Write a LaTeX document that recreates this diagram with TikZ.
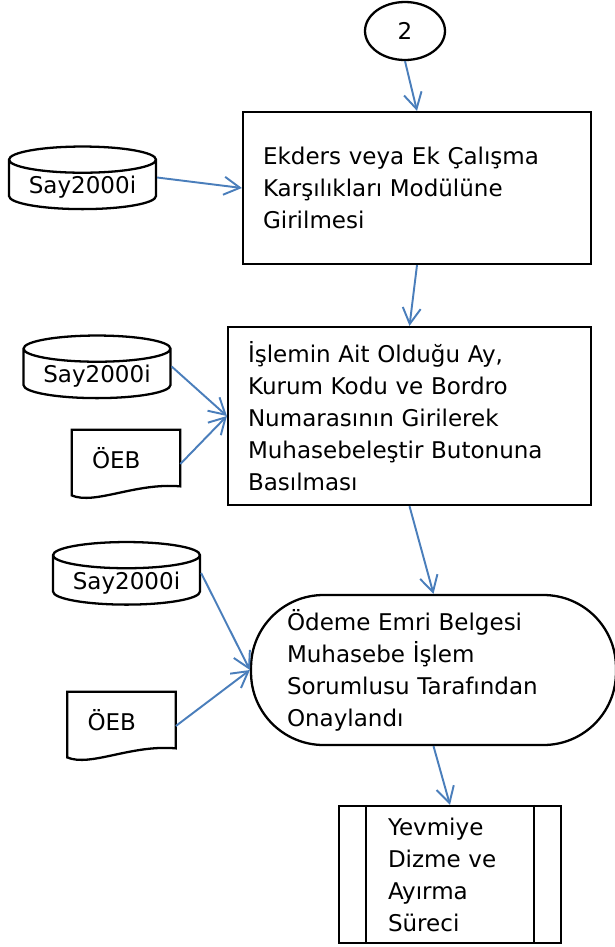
\documentclass[tikz,border=0pt]{standalone}
\usepackage{fontspec}
\setmainfont{DejaVu Sans}
\usetikzlibrary{shapes.geometric,arrows.meta}
\definecolor{okmavi}{RGB}{74,126,187}

\begin{document}
\begin{tikzpicture}[x=0.02cm, y=-0.02cm]
	\tikzset{every node/.style={font=\fontsize{13.1}{18.2}\selectfont}, kutu/.style={rectangle, draw=black, line width=1.3pt, align=left, inner ysep=0pt}, baglanti/.style={ellipse, draw=black, line width=1.3pt, minimum width=1.6cm, minimum height=1.16cm}, veri/.style={cylinder, shape border rotate=90, aspect=0.22, draw=black, line width=1.3pt, inner ysep=0.05cm, minimum width=2.94cm, minimum height=0.9cm}, belge/.style={rectangle, align=left, text width=1.36cm, inner xsep=0.4cm, minimum height=1.12cm}, ok/.style={draw=okmavi, line width=1.1pt, -{Straight Barb[length=0.32cm, width=0.36cm]}}};

	\useasboundingbox (0,0) rectangle (615,947);

	\node[baglanti] (iki) at (405,31) {2};
	\node[kutu, minimum width=6.96cm, minimum height=3.04cm, text width=6.16cm, inner xsep=0.4cm] (ekders) at (417,188) {Ekders veya Ek Çalışma\\Karşılıkları Modülüne\\Girilmesi};
	\node[kutu, minimum width=7.26cm, minimum height=3.56cm, text width=6.46cm, inner xsep=0.4cm] (islem) at (409.5,416) {İşlemin Ait Olduğu Ay,\\Kurum Kodu ve Bordro\\Numarasının Girilerek\\Muhasebeleştir Butonuna\\Basılması};
	\node[kutu, rounded corners=1.45cm, minimum width=7.3cm, minimum height=3cm, text width=5.86cm, inner xsep=0.72cm] (onay) at (433.5,670) {Ödeme Emri Belgesi\\Muhasebe İşlem\\Sorumlusu Tarafından\\Onaylandı};
	\node[kutu, minimum width=4.44cm, minimum height=2.74cm, text width=2.48cm, inner xsep=0.98cm] (yevmiye) at (450,874.5) {Yevmiye\\Dizme ve\\Ayırma\\Süreci};
	\draw[line width=1.3pt] ([xshift=0.56cm]yevmiye.north west) -- ([xshift=0.56cm]yevmiye.south west);
	\draw[line width=1.3pt] ([xshift=-0.56cm]yevmiye.north east) -- ([xshift=-0.56cm]yevmiye.south east);

	\node[veri] (say1) at (82.5,187.5) {Say2000i};
	\node[veri] (say2) at (  97,376.5) {Say2000i};
	\node[veri] (say3) at (126.5,583) {Say2000i};

	\node[belge] (oeb1) at (126,458) {ÖEB};
	\node[belge] (oeb2) at (121.5,720) {ÖEB};
	\draw[line width=1.3pt] (oeb1.north west) -- (oeb1.north east) -- (oeb1.south east) .. controls +(-45,-4) and +(23,10) .. ([yshift=-0.18cm]oeb1.south west) -- cycle;
	\draw[line width=1.3pt] (oeb2.north west) -- (oeb2.north east) -- (oeb2.south east) .. controls +(-45,-4) and +(23,10) .. ([yshift=-0.18cm]oeb2.south west) -- cycle;

	\draw[ok] (iki.south) -- (ekders.north);
	\draw[ok] ([yshift=0.2cm]say1.east) -- (ekders.west);
	\draw[ok] (ekders.south) -- (islem.north);
	\draw[ok] ([yshift=0.2cm]say2.east) -- (islem.west);
	\draw[ok] ([yshift=-0.12cm]oeb1.east) -- (islem.west);
	\draw[ok] (islem.south) -- (onay.north);
	\draw[ok] ([yshift=0.2cm]say3.east) -- (onay.west);
	\draw[ok] ([yshift=-0.12cm]oeb2.east) -- (onay.west);
	\draw[ok] (onay.south) -- (yevmiye.north);

\end{tikzpicture}
\end{document}
